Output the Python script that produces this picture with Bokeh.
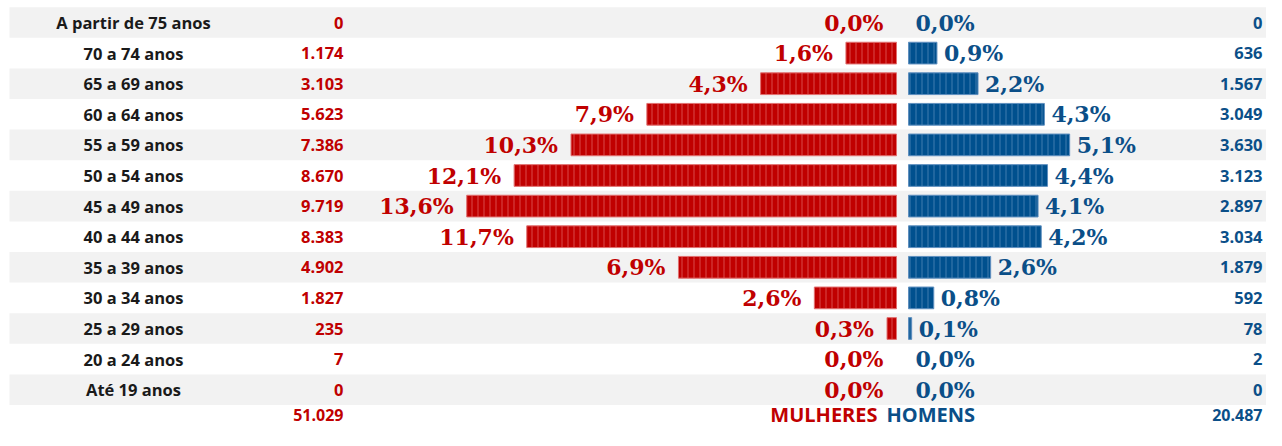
from bokeh.plotting import figure
from bokeh.models import ColumnDataSource, Range1d
from bokeh.core.properties import value
from bokeh.embed import file_html
from bokeh.resources import INLINE

ages = ["A partir de 75 anos", "70 a 74 anos", "65 a 69 anos", "60 a 64 anos",
        "55 a 59 anos", "50 a 54 anos", "45 a 49 anos", "40 a 44 anos",
        "35 a 39 anos", "30 a 34 anos", "25 a 29 anos", "20 a 24 anos", "Até 19 anos"]
women_counts = ["0", "1.174", "3.103", "5.623", "7.386", "8.670", "9.719", "8.383",
                "4.902", "1.827", "235", "7", "0"]
women_pct = [0.0, 1.6, 4.3, 7.9, 10.3, 12.1, 13.6, 11.7, 6.9, 2.6, 0.3, 0.0, 0.0]
men_counts = ["0", "636", "1.567", "3.049", "3.630", "3.123", "2.897", "3.034",
              "1.879", "592", "78", "2", "0"]
men_pct = [0.0, 0.9, 2.2, 4.3, 5.1, 4.4, 4.1, 4.2, 2.6, 0.8, 0.1, 0.0, 0.0]
women_total = "51.029"
men_total = "20.487"
women_title = "MULHERES"
men_title = "HOMENS"

RED = "#C00000"
BLUE = "#0B4F88"
GRAY = "#F2F2F2"

W, H = 1266, 430
PX = 31.6          # pixels per percent point
ORIGIN = 902       # pixel of the centre line
GAP = 6 / PX       # half gap between the two bar groups
PITCH = 30.6
TOP = 22           # pixel of first row centre
TOTAL_PX = 414     # pixel of totals row centre


def ux(px):
    return (px - ORIGIN) / PX


n = len(ages)
rows = list(range(n))
fmt = lambda v: f"{v:.1f}".replace(".", ",") + "%"

src = ColumnDataSource(dict(
    y=rows, age=ages, wc=women_counts, mc=men_counts,
    wl=[-GAP - v for v in women_pct], wr=[-GAP] * n,
    ml=[GAP] * n, mr=[GAP + v for v in men_pct],
    wa=[1.0 if v > 0 else 0.0 for v in women_pct],
    ma=[1.0 if v > 0 else 0.0 for v in men_pct],
    wt=[fmt(v) for v in women_pct], mt=[fmt(v) for v in men_pct],
))

y_top = -TOP / PITCH
y_bot = (H - TOP) / PITCH
y_total = (TOTAL_PX - TOP) / PITCH
p = figure(width=W, height=H, output_backend="svg", toolbar_location=None,
           x_range=Range1d(ux(0), ux(W)),
           y_range=Range1d(y_bot, y_top), min_border=0)
p.axis.visible = False
p.grid.visible = False
p.outline_line_color = None
p.background_fill_color = "white"
p.border_fill_color = "white"

# alternating bands
band_rows = [r for r in rows if r % 2 == 0]
p.hbar(y=band_rows, left=ux(9), right=ux(W), height=1.0,
       fill_color=GRAY, line_color=None)

# bars
p.hbar(y="y", left="wl", right="wr", height=0.71, source=src,
       fill_color=RED, fill_alpha="wa", line_color="#E07070", line_alpha="wa",
       line_width=1, hatch_pattern="vertical_line", hatch_color="#E46A6A",
       hatch_alpha=0.7, hatch_scale=6, hatch_weight=1)
p.hbar(y="y", left="ml", right="mr", height=0.71, source=src,
       fill_color="#00508E", fill_alpha="ma", line_color="#5F8FBF", line_alpha="ma",
       line_width=1, hatch_pattern="vertical_line", hatch_color="#5A8DBE",
       hatch_alpha=0.7, hatch_scale=6, hatch_weight=1)

sans = value("Open Sans")
serif = value("DejaVu Serif")

p.text(x=ux(133), y="y", text="age", source=src, text_font=sans,
       text_font_style="bold", text_font_size="16.5px", text_color="#1A1A1A",
       text_align="center", text_baseline="middle")
p.text(x=ux(343), y="y", text="wc", source=src, text_font=sans,
       text_font_style="bold", text_font_size="16.5px", text_color=RED,
       text_align="right", text_baseline="middle")
p.text(x=ux(1262), y="y", text="mc", source=src, text_font=sans,
       text_font_style="bold", text_font_size="16.5px", text_color=BLUE,
       text_align="right", text_baseline="middle")

p.text(x="wl", y="y", text="wt", source=src, x_offset=-13, text_font=serif,
       text_font_style="bold", text_font_size="22px", text_color=RED,
       text_align="right", text_baseline="middle")
p.text(x="mr", y="y", text="mt", source=src, x_offset=7, text_font=serif,
       text_font_style="bold", text_font_size="22px", text_color=BLUE,
       text_align="left", text_baseline="middle")

# totals row
p.text(x=[ux(343)], y=[y_total], text=[women_total], text_font=sans,
       text_font_style="bold", text_font_size="16px", text_color=RED,
       text_align="right", text_baseline="middle")
p.text(x=[ux(1262)], y=[y_total], text=[men_total], text_font=sans,
       text_font_style="bold", text_font_size="16px", text_color=BLUE,
       text_align="right", text_baseline="middle")
p.text(x=[ux(877)], y=[y_total], text=[women_title], text_font=sans,
       text_font_style="bold", text_font_size="20px", text_color=RED,
       text_align="right", text_baseline="middle")
p.text(x=[ux(886)], y=[y_total], text=[men_title], text_font=sans,
       text_font_style="bold", text_font_size="20px", text_color=BLUE,
       text_align="left", text_baseline="middle")

open("out.html", "w").write(file_html(p, INLINE))
